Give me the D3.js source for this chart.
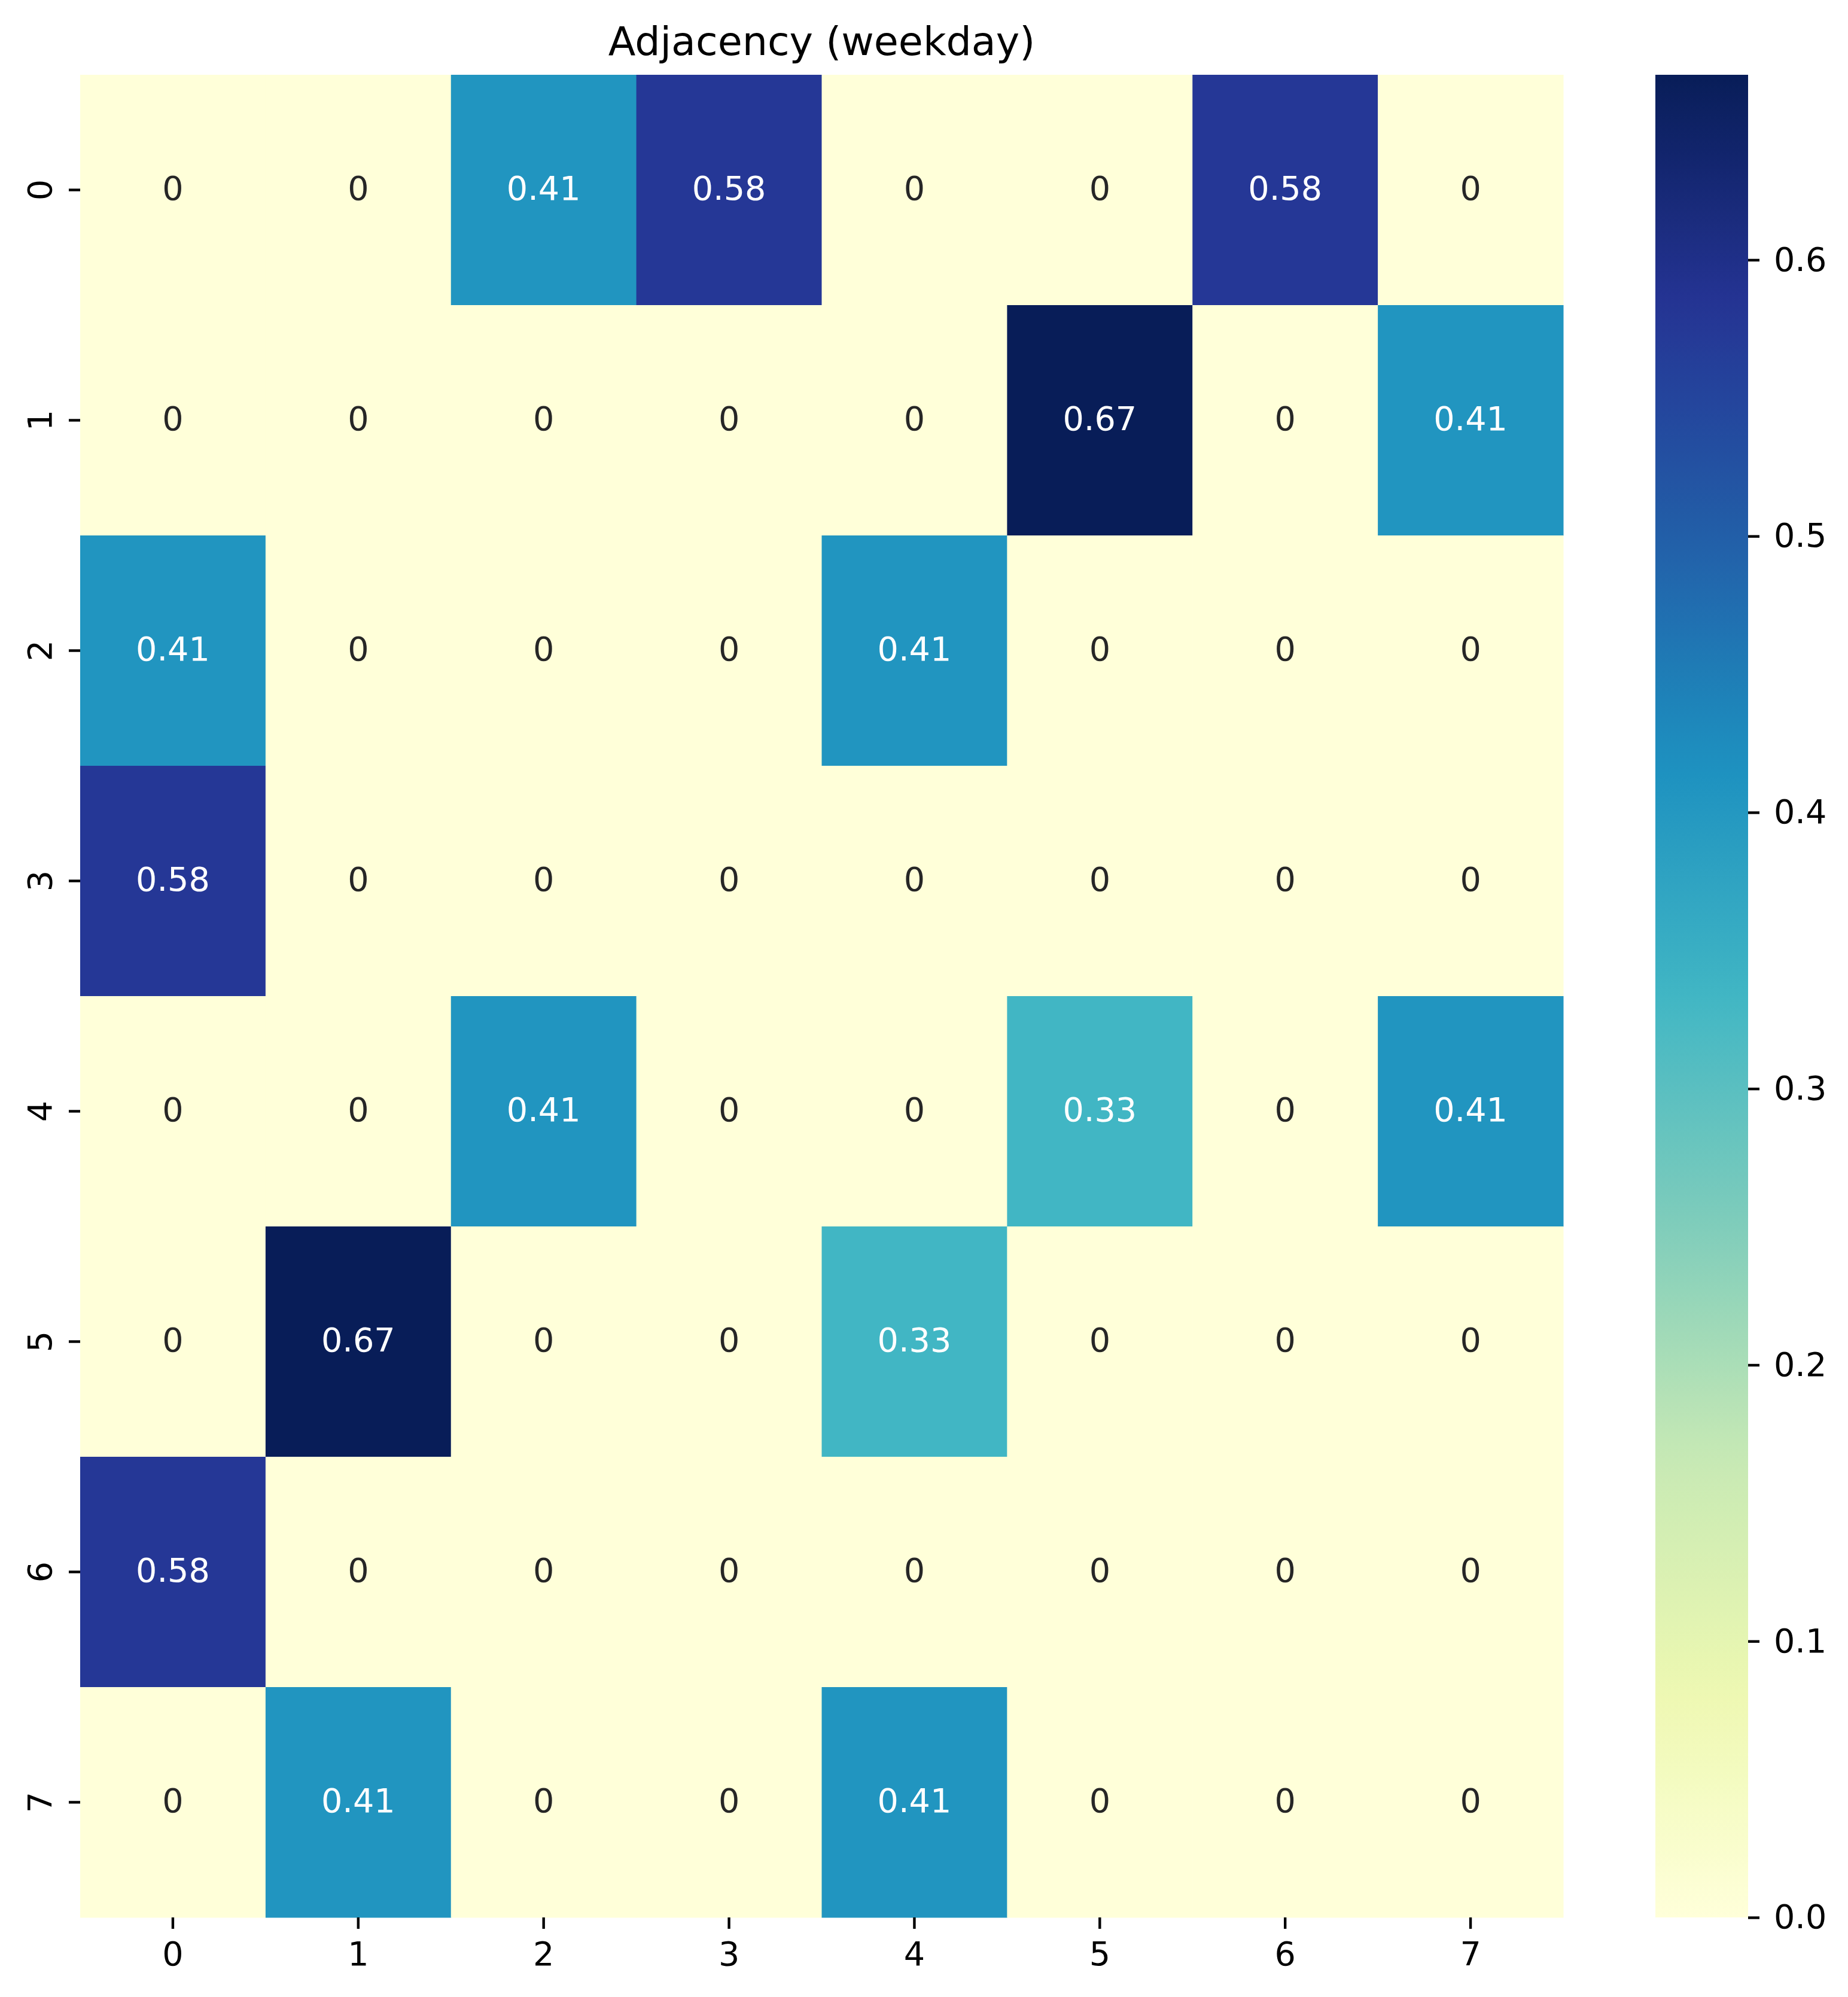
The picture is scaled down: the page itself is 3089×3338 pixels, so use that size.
<!DOCTYPE html>
<html>
<head>
<meta charset="utf-8">
<script src="https://cdn.jsdelivr.net/npm/d3@7"></script>
<style>
  body { margin: 0; background: #fff; }
  svg { display: block; font-family: "DejaVu Sans", sans-serif; }
</style>
</head>
<body>
<div id="chart"></div>
<script>
(function(){

  // data
  var title = "Adjacency (weekday)";
  var rowLabels = ["0", "1", "2", "3", "4", "5", "6", "7"];
  var colLabels = ["0", "1", "2", "3", "4", "5", "6", "7"];
  var row0 = [0, 0, 0.408, 0.577, 0, 0, 0.577, 0];
  var row1 = [0, 0, 0, 0, 0, 0.667, 0, 0.408];
  var row2 = [0.408, 0, 0, 0, 0.408, 0, 0, 0];
  var row3 = [0.577, 0, 0, 0, 0, 0, 0, 0];
  var row4 = [0, 0, 0.408, 0, 0, 0.333, 0, 0.408];
  var row5 = [0, 0.667, 0, 0, 0.333, 0, 0, 0];
  var row6 = [0.577, 0, 0, 0, 0, 0, 0, 0];
  var row7 = [0, 0.408, 0, 0, 0.408, 0, 0, 0];
  var colorbarTicks = [0, 0.1, 0.2, 0.3, 0.4, 0.5, 0.6];
  var ylgnbu = ["#ffffd9", "#edf8b1", "#c7e9b4", "#7fcdbb", "#41b6c4",
                "#1d91c0", "#225ea8", "#253494", "#081d58"];

  var matrix = [row0, row1, row2, row3, row4, row5, row6, row7];

  var width = 3089,
      height = 3338,
      margin = {top: 125, left: 134},
      plotRight = 2613,
      plotBottom = 3205,
      cbLeft = 2767,
      cbRight = 2922,
      tickLen = 19,
      tickPad = 19,
      fontSize = 55.6;

  var cells = [];
  matrix.forEach(function(r, i){
    r.forEach(function(v, j){
      cells.push({row: rowLabels[i], col: colLabels[j], value: v});
    });
  });

  var vmax = d3.max(cells, function(d){ return d.value; });

  var color = d3.scaleLinear()
      .domain(d3.range(ylgnbu.length).map(function(i){ return vmax * i / (ylgnbu.length - 1); }))
      .range(ylgnbu)
      .interpolate(d3.interpolateRgb);

  var x = d3.scaleBand().domain(colLabels).range([margin.left, plotRight]);
  var y = d3.scaleBand().domain(rowLabels).range([margin.top, plotBottom]);

  var svg = d3.select("#chart").append("svg")
      .attr("width", width)
      .attr("height", height);

  // cells
  svg.append("g").selectAll("rect")
    .data(cells)
    .enter().append("rect")
      .attr("x", function(d){ return x(d.col); })
      .attr("y", function(d){ return y(d.row); })
      .attr("width", x.bandwidth() + 0.5)
      .attr("height", y.bandwidth() + 0.5)
      .attr("fill", function(d){ return color(d.value); });

  function luminance(c){
    var rgb = d3.rgb(c);
    var ch = [rgb.r, rgb.g, rgb.b].map(function(v){
      v = v / 255;
      return v <= 0.03928 ? v / 12.92 : Math.pow((v + 0.055) / 1.055, 2.4);
    });
    return 0.2126 * ch[0] + 0.7152 * ch[1] + 0.0722 * ch[2];
  }

  var fmt = d3.format(".2g");

  svg.append("g").selectAll("text")
    .data(cells)
    .enter().append("text")
      .attr("x", function(d){ return x(d.col) + x.bandwidth() / 2; })
      .attr("y", function(d){ return y(d.row) + y.bandwidth() / 2 + 16; })
      .attr("text-anchor", "middle")
      .attr("font-size", fontSize)
      .attr("fill", function(d){ return luminance(color(d.value)) > 0.408 ? "#262626" : "#ffffff"; })
      .text(function(d){ return d.value === 0 ? "0" : fmt(d.value); });

  // x axis
  var xAxis = d3.axisBottom(x).tickSize(tickLen).tickPadding(tickPad);
  var gx = svg.append("g")
      .attr("transform", "translate(0," + plotBottom + ")")
      .call(xAxis);
  gx.select(".domain").remove();
  gx.selectAll(".tick line").attr("stroke", "#000").attr("stroke-width", 4.4);
  gx.selectAll(".tick text")
      .attr("font-size", fontSize)
      .attr("fill", "#000")
      .attr("font-family", "DejaVu Sans")
      .attr("dy", "0.76em");

  // y axis, labels rotated
  var yAxis = d3.axisLeft(y).tickSize(tickLen).tickPadding(tickPad);
  var gy = svg.append("g")
      .attr("transform", "translate(" + margin.left + ",0)")
      .call(yAxis);
  gy.select(".domain").remove();
  gy.selectAll(".tick line").attr("stroke", "#000").attr("stroke-width", 4.4);
  gy.selectAll(".tick text")
      .attr("font-size", fontSize)
      .attr("fill", "#000")
      .attr("font-family", "DejaVu Sans")
      .attr("x", null).attr("dy", null)
      .attr("text-anchor", "middle")
      .attr("transform", "translate(-48,0) rotate(-90)");

  // title
  svg.append("text")
      .attr("x", (margin.left + plotRight) / 2)
      .attr("y", 92)
      .attr("text-anchor", "middle")
      .attr("font-size", 66.7)
      .attr("fill", "#000")
      .text(title);

  // colorbar
  var cb = d3.scaleLinear().domain([0, vmax]).range([plotBottom, margin.top]);

  var grad = svg.append("defs").append("linearGradient")
      .attr("id", "cbgrad")
      .attr("x1", 0).attr("y1", 1).attr("x2", 0).attr("y2", 0);
  grad.selectAll("stop")
    .data(d3.range(0, 1.0001, 0.02))
    .enter().append("stop")
      .attr("offset", function(t){ return t; })
      .attr("stop-color", function(t){ return color(t * vmax); });

  svg.append("rect")
      .attr("x", cbLeft)
      .attr("y", margin.top)
      .attr("width", cbRight - cbLeft)
      .attr("height", plotBottom - margin.top)
      .attr("fill", "url(#cbgrad)");

  var cAxis = d3.axisRight(cb)
      .tickValues(colorbarTicks)
      .tickFormat(d3.format(".1f"))
      .tickSize(tickLen)
      .tickPadding(tickPad + 5);
  var gc = svg.append("g")
      .attr("transform", "translate(" + cbRight + ",0)")
      .call(cAxis);
  gc.select(".domain").remove();
  gc.selectAll(".tick line").attr("stroke", "#000").attr("stroke-width", 4.4);
  gc.selectAll(".tick text")
      .attr("font-size", fontSize)
      .attr("fill", "#000")
      .attr("font-family", "DejaVu Sans");

})();
</script>
</body>
</html>
